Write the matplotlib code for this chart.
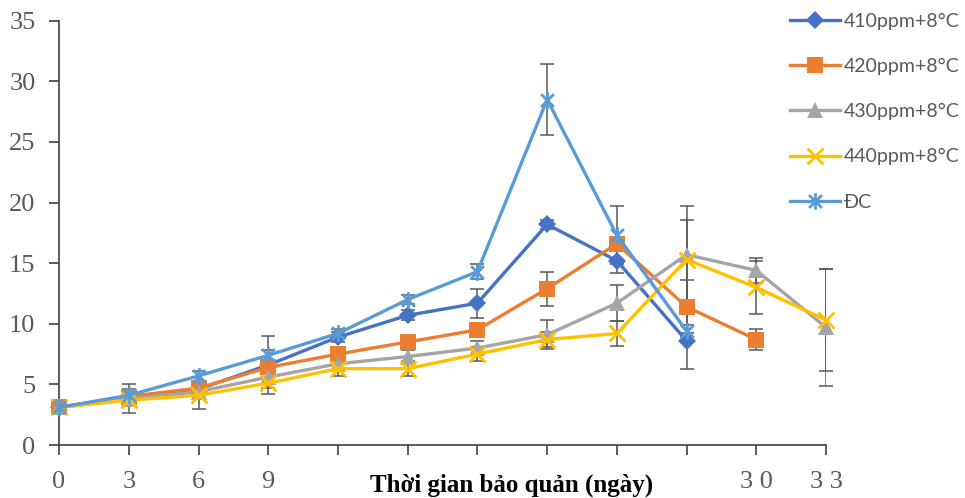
import numpy as np
import matplotlib.pyplot as plt
from matplotlib.path import Path

# days of storage
days = [0, 3, 6, 9, 12, 15, 18, 21, 24, 27, 30, 33]
tick_labels = ['0', '3', '6', '9', '', '', '', '', '', '', '3 0', '3 3']

# series values
s410 = [3.1, 4.0, 4.6, 6.6, 8.9, 10.7, 11.7, 18.2, 15.2, 8.6]
s420 = [3.1, 4.0, 4.7, 6.4, 7.5, 8.5, 9.5, 12.9, 16.6, 11.4, 8.7]
s430 = [3.1, 3.8, 4.4, 5.6, 6.7, 7.3, 8.0, 9.1, 11.7, 15.7, 14.4, 9.7]
s440 = [3.1, 3.7, 4.1, 5.1, 6.3, 6.3, 7.5, 8.7, 9.2, 15.3, 13.0, 10.3]
sdc = [3.1, 4.1, 5.7, 7.4, 9.2, 12.0, 14.3, 28.5, 17.3, 9.4]

# error values
e410 = [0.2, 0.5, 0.5, 2.4, 0.4, 0.4, 1.2, 0.4, 1.0, 2.3]
e420 = [0.2, 0.4, 0.4, 0.5, 0.4, 0.5, 0.4, 1.4, 0.6, 2.2, 0.9]
e430 = [0.2, 1.2, 0.5, 0.5, 0.5, 0.5, 0.6, 1.2, 1.5, 4.0, 1.0, 4.8]
e440 = [0.2, 0.5, 1.1, 0.4, 0.6, 0.6, 0.6, 0.6, 1.0, 3.3, 2.2, 4.2]
edc = [0.2, 0.5, 0.4, 0.4, 0.4, 0.4, 0.6, 2.9, 2.4, 0.5]

names = ['410ppm+8°C', '420ppm+8°C', '430ppm+8°C', '440ppm+8°C', 'ĐC']
colors = ['#4472C4', '#ED7D31', '#A5A5A5', '#FFC000', '#5B9BD5']

# asterisk marker like excel
star = Path([(-1, -1), (1, 1), (-1, 1), (1, -1), (0, -1.3), (0, 1.3)],
            [Path.MOVETO, Path.LINETO, Path.MOVETO, Path.LINETO, Path.MOVETO, Path.LINETO])

markers = ['D', 's', '^', 'x', star]
msizes = [9, 11, 11, 12, 12]
series = [s410, s420, s430, s440, sdc]
errors = [e410, e420, e430, e440, edc]

fig = plt.figure(figsize=(9.65, 4.98), dpi=100)
ax = fig.add_axes([0.0612, 0.1064, 0.7948, 0.852])

for vals, err in zip(series, errors):
    ax.errorbar(days[:len(vals)], vals, yerr=err, fmt='none',
                ecolor='#595959', elinewidth=1.1, capsize=5, capthick=1.1, zorder=2)

handles = []
for vals, name, c, m, ms in zip(series, names, colors, markers, msizes):
    if m == 'x' or m is star:
        h, = ax.plot(days[:len(vals)], vals, color=c, linewidth=2.4, marker=m,
                     markersize=ms, markeredgewidth=2, markerfacecolor='none',
                     markeredgecolor=c, label=name, zorder=3)
    else:
        h, = ax.plot(days[:len(vals)], vals, color=c, linewidth=2.4, marker=m,
                     markersize=ms, markeredgewidth=0, markerfacecolor=c,
                     label=name, zorder=3)
    handles.append(h)

ax.set_xlim(0, 33)
ax.set_ylim(0, 35)
ax.set_xticks(days)
ax.set_xticklabels(tick_labels)
ax.set_yticks(np.arange(0, 36, 5))
ax.spines['top'].set_visible(False)
ax.spines['right'].set_visible(False)
for sp in ['left', 'bottom']:
    ax.spines[sp].set_color('#404040')
    ax.spines[sp].set_linewidth(1.2)
ax.tick_params(axis='both', direction='out', length=7, width=1.2, color='#404040',
               labelcolor='#595959', labelsize=19)
ax.tick_params(axis='x', pad=12)
ax.tick_params(axis='y', pad=10)
for lab in ax.get_xticklabels() + ax.get_yticklabels():
    lab.set_fontfamily('Liberation Serif')
for ln in ax.lines:
    ln.set_clip_on(False)

fig.text(0.53, 0.002, 'Thời gian bảo quản (ngày)', ha='center', va='bottom',
         fontsize=18, fontweight='bold', family='Liberation Serif', color='black')

leg = fig.legend(handles=handles, loc='upper left', bbox_to_anchor=(0.8, 1.01),
                 frameon=False, handlelength=2.6, handletextpad=0.2,
                 labelspacing=1.45, prop={'family': 'Lato', 'size': 14})
for t in leg.get_texts():
    t.set_color('#595959')

fig.savefig('out.png', dpi=100)
